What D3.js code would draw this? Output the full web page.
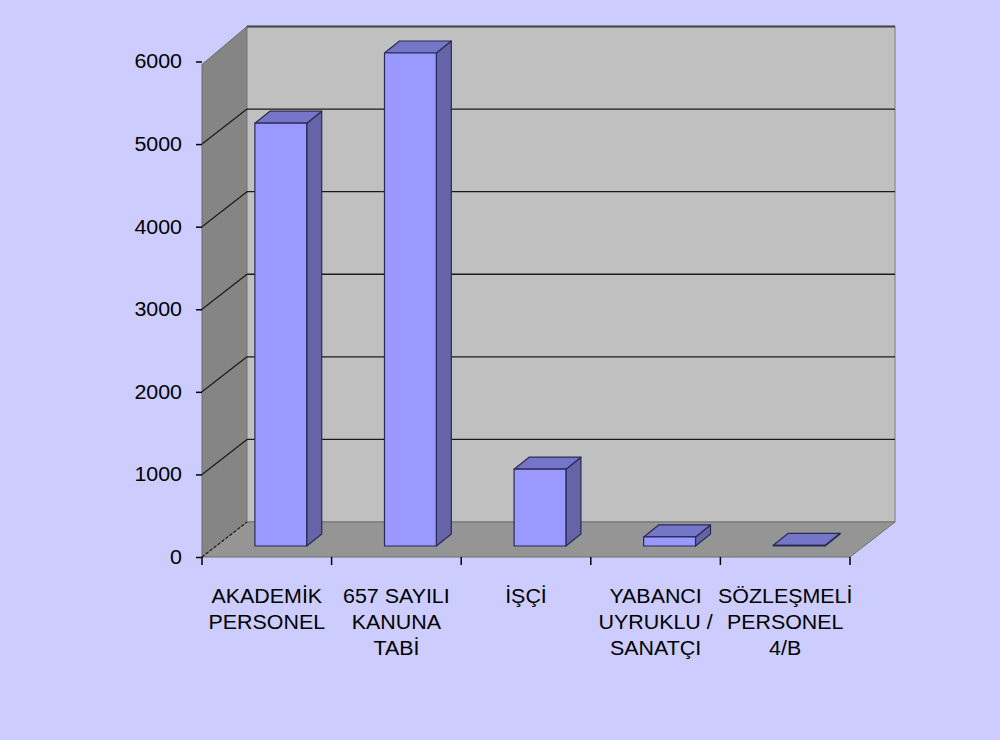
<!DOCTYPE html>
<html>
<head>
<meta charset="utf-8">
<script src="https://cdnjs.cloudflare.com/ajax/libs/d3/7.8.5/d3.min.js"></script>
<style>
    body { margin: 0; background: #CCCCFF; }
    svg { display: block; }
    .axis text, .cat-label { font-family: "Liberation Sans", Arial, sans-serif; font-size: 20px; fill: #000; }
</style>
</head>
<body>
<div id="chart-area"></div>
<script>
// data
var categories = ["AKADEMİK PERSONEL", "657 SAYILI KANUNA TABİ", "İŞÇİ", "YABANCI UYRUKLU / SANATÇI", "SÖZLEŞMELİ PERSONEL 4/B"];
var categoryLines = [["AKADEMİK", "PERSONEL"], ["657 SAYILI", "KANUNA", "TABİ"], ["İŞÇİ"], ["YABANCI", "UYRUKLU /", "SANATÇI"], ["SÖZLEŞMELİ", "PERSONEL", "4/B"]];
var staffCounts = [5120, 5970, 930, 110, 8];
var yTicks = [0, 1000, 2000, 3000, 4000, 5000, 6000];

BarChart3D = function(_parentElement, _categories, _lines, _values, _ticks){
    this.parentElement = _parentElement;
    this.categories = _categories;
    this.lines = _lines;
    this.values = _values;
    this.ticks = _ticks;
    this.initVis();
}

BarChart3D.prototype.initVis = function() {
    var vis = this;

    vis.svg = d3.select("#" + vis.parentElement).append("svg")
        .attr("width", 1000)
        .attr("height", 740);

    vis.svg.append("rect")
        .attr("width", 1000).attr("height", 740)
        .attr("fill", "#CCCCFF");

    // front plane of the plot
    vis.left = 202; vis.right = 850;
    vis.bottom = 557; vis.top = 61.5;
    // depth of the box and of each bar
    vis.depth = {dx: 45, dy: 35};
    vis.barOffset = {dx: 14, dy: 11};
    vis.barDepth = {dx: 15, dy: 12};

    vis.x = d3.scaleBand()
        .domain(vis.categories)
        .range([vis.left, vis.right]);

    vis.y = d3.scaleLinear()
        .domain([0, 6000])
        .range([vis.bottom, vis.top]);

    var dx = vis.depth.dx, dy = vis.depth.dy;
    var y0 = vis.y(0), yTop = vis.y(6000);

    // walls and floor
    vis.svg.append("path")
        .attr("d", "M" + vis.left + "," + y0 + "L" + vis.left + "," + (yTop + 3) +
            "L" + (vis.left + dx) + "," + (yTop - dy) + "L" + (vis.left + dx) + "," + (y0 - dy) + "Z")
        .attr("fill", "#858585")
        .attr("stroke", "#6a6a6a");

    vis.svg.append("rect")
        .attr("x", vis.left + dx)
        .attr("y", yTop - dy)
        .attr("width", vis.right - vis.left)
        .attr("height", y0 - yTop)
        .attr("fill", "#C0C0C0")
        .attr("stroke", "#7a7a7a");

    vis.svg.append("path")
        .attr("d", "M" + vis.left + "," + y0 + "L" + vis.right + "," + y0 +
            "L" + (vis.right + dx) + "," + (y0 - dy) + "L" + (vis.left + dx) + "," + (y0 - dy) + "Z")
        .attr("fill", "#959595")
        .attr("stroke", "#6f6f6f");

    // gridlines on back wall and left wall
    vis.svg.append("g")
        .selectAll("line")
        .data(vis.ticks.slice(1))
        .enter().append("line")
        .attr("x1", vis.left + dx)
        .attr("x2", vis.right + dx)
        .attr("y1", function(d) { return vis.y(d) - dy; })
        .attr("y2", function(d) { return vis.y(d) - dy; })
        .attr("stroke", "#1a1a1a")
        .attr("stroke-width", function(d) { return d === 6000 ? 2.5 : 1.4; })
        .attr("stroke-opacity", function(d) { return d === 6000 ? 0.55 : 1; });

    vis.svg.append("g")
        .selectAll("line")
        .data(vis.ticks.slice(0, -1))
        .enter().append("line")
        .attr("x1", vis.left)
        .attr("x2", vis.left + dx)
        .attr("y1", function(d) { return vis.y(d); })
        .attr("y2", function(d) { return vis.y(d) - dy; })
        .attr("stroke", "#1a1a1a")
        .attr("stroke-width", 1.2)
        .attr("stroke-dasharray", function(d) { return d === 0 ? "3,2" : null; });

    // bars
    var bw = vis.x.bandwidth() * 0.4;
    var bdx = vis.barDepth.dx, bdy = vis.barDepth.dy;
    var bars = vis.svg.append("g")
        .selectAll("g")
        .data(vis.values)
        .enter().append("g")
        .attr("stroke", "#2a2a55")
        .attr("stroke-width", 1.2)
        .attr("stroke-linejoin", "round");

    function bx(d, i) { return vis.x(vis.categories[i]) + (vis.x.bandwidth() - bw) / 2 + vis.barOffset.dx; }
    function byTop(d) { return vis.y(d) - vis.barOffset.dy; }
    function byBot() { return vis.y(0) - vis.barOffset.dy; }

    bars.append("path")
        .attr("fill", "#6464A6")
        .attr("d", function(d, i) {
            var x1 = bx(d, i) + bw;
            return "M" + x1 + "," + byBot() + "L" + (x1 + bdx) + "," + (byBot() - bdy) +
                "L" + (x1 + bdx) + "," + (byTop(d) - bdy) + "L" + x1 + "," + byTop(d) + "Z";
        });

    bars.append("path")
        .attr("fill", "#7676C8")
        .attr("d", function(d, i) {
            var x0 = bx(d, i);
            return "M" + x0 + "," + byTop(d) + "L" + (x0 + bdx) + "," + (byTop(d) - bdy) +
                "L" + (x0 + bw + bdx) + "," + (byTop(d) - bdy) + "L" + (x0 + bw) + "," + byTop(d) + "Z";
        });

    bars.append("rect")
        .attr("fill", "#9999FF")
        .attr("x", bx)
        .attr("y", byTop)
        .attr("width", bw)
        .attr("height", function(d) { return byBot() - byTop(d); });

    // y axis
    vis.svg.append("g")
        .attr("class", "axis y-axis")
        .attr("transform", "translate(" + vis.left + ",0)")
        .call(d3.axisLeft(vis.y).tickValues(vis.ticks).tickFormat(d3.format("d")).tickSize(6).tickPadding(14))
        .call(function(g) { g.select(".domain").remove(); })
        .call(function(g) { g.selectAll(".tick line").attr("stroke", "#000").attr("stroke-width", 1.5); });

    // x axis ticks at category boundaries
    var bounds = vis.categories.map(function(c) { return vis.x(c); }).concat([vis.right]);
    vis.svg.append("g")
        .selectAll("line")
        .data(bounds)
        .enter().append("line")
        .attr("x1", function(d) { return d; })
        .attr("x2", function(d) { return d; })
        .attr("y1", y0)
        .attr("y2", y0 + 8)
        .attr("stroke", "#000")
        .attr("stroke-width", 1.5);

    // category labels
    var labels = vis.svg.append("g")
        .selectAll("text")
        .data(vis.lines)
        .enter().append("text")
        .attr("class", "cat-label")
        .attr("text-anchor", "middle")
        .attr("x", function(d, i) { return vis.x(vis.categories[i]) + vis.x.bandwidth() / 2; })
        .attr("y", 603);

    labels.selectAll("tspan")
        .data(function(d, i) { return d.map(function(t) { return {t: t, i: i}; }); })
        .enter().append("tspan")
        .attr("x", function(d) { return vis.x(vis.categories[d.i]) + vis.x.bandwidth() / 2; })
        .attr("dy", function(d, j) { return j === 0 ? 0 : 25.8; })
        .text(function(d) { return d.t; });

    // the picture is a bit stretched sideways
    vis.svg.selectAll(".y-axis text, .cat-label tspan").each(function() {
        var len = this.getComputedTextLength();
        d3.select(this).attr("textLength", len * 1.07).attr("lengthAdjust", "spacingAndGlyphs");
    });
}

var chart = new BarChart3D("chart-area", categories, categoryLines, staffCounts, yTicks);
</script>
</body>
</html>
